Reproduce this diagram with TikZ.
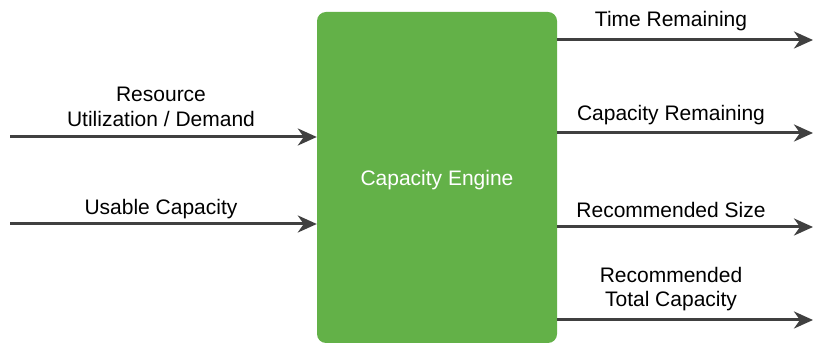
\documentclass[tikz,border=0pt]{standalone}
\usepackage{fontspec}
\setmainfont{Liberation Sans}
\usetikzlibrary{arrows.meta}
\definecolor{enggreen}{RGB}{99,177,72}
\definecolor{linegray}{RGB}{64,64,64}
\tikzset{
  flow/.style={draw=linegray, line width=3pt, -{Stealth[length=19pt,width=17pt,inset=6pt]}},
  lbl/.style={font=\fontsize{21}{24.5}\selectfont, align=center, inner sep=0pt, text=black},
}
\begin{document}
\begin{tikzpicture}[x=1pt,y=-1pt]
\useasboundingbox (0,0) rectangle (814,344);
\node[fill=enggreen, rounded corners=9pt, minimum width=240pt, minimum height=331pt, inner sep=0pt] (eng) at (437,177.5) {};
\node[text=white, font=\fontsize{21}{24.5}\selectfont, inner sep=0pt] (englbl) at (437,180) {Capacity Engine};
% inputs
\coordinate (inA) at (10,137);
\coordinate (inB) at (10,224);
\draw[flow] (inA) -- (eng.west |- inA);
\draw[flow] (inB) -- (eng.west |- inB);
\node[lbl] (lA) at (161,107) {Resource\\Utilization / Demand};
\node[lbl] (lB) at (161,209) {Usable Capacity};
% outputs
\coordinate (o1) at (813,40);
\coordinate (o2) at (813,133);
\coordinate (o3) at (813,227);
\coordinate (o4) at (813,320);
\draw[flow] (eng.east |- o1) -- (o1);
\draw[flow] (eng.east |- o2) -- (o2);
\draw[flow] (eng.east |- o3) -- (o3);
\draw[flow] (eng.east |- o4) -- (o4);
\node[lbl] (l1) at (671,21) {Time Remaining};
\node[lbl] (l2) at (671,115) {Capacity Remaining};
\node[lbl] (l3) at (671,210) {Recommended Size};
\node[lbl] (l4) at (671,289) {Recommended\\Total Capacity};
\end{tikzpicture}
\end{document}
